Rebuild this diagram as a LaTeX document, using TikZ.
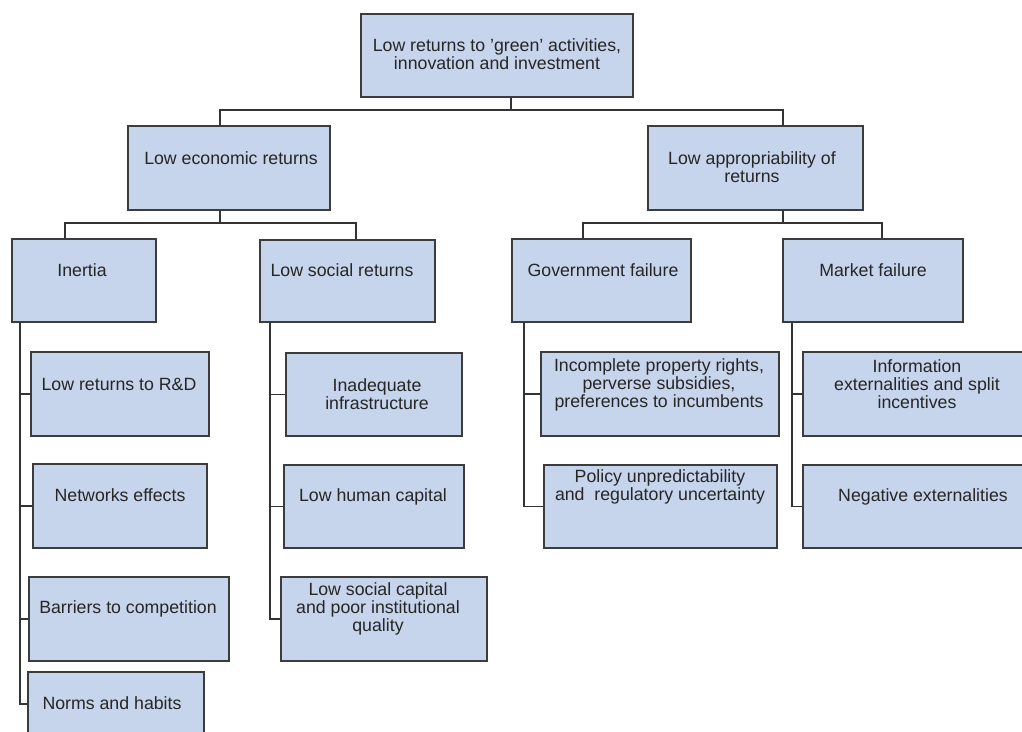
\documentclass[tikz,border=0pt]{standalone}
\usepackage{fontspec}
\setmainfont{Liberation Sans}
\usetikzlibrary{fit}
\definecolor{boxfill}{HTML}{C6D4EC}
\definecolor{boxline}{HTML}{3C3C3C}
\definecolor{wire}{HTML}{333333}
\tikzset{
  box/.style={draw=boxline, fill=boxfill, line width=0.8pt, inner sep=0pt, rectangle},
  txt/.style={align=center, inner sep=0pt, text=black!85, font=\fontsize{13.3}{13.6}\selectfont},
  wire/.style={draw=wire, line width=0.8pt}
}
\begin{document}
\begin{tikzpicture}[x=0.75pt, y=-0.75pt]
\useasboundingbox (0,0) rectangle (1022,732);
\clip (0,0) rectangle (1022,732);
% boxes
\node[box, fit={(361,14) (633,97)}] (top) {};
\node[box, fit={(128,126) (330,210)}] (econ) {};
\node[box, fit={(648,126) (863,210)}] (approp) {};
\node[box, fit={(12,239) (156,322)}] (inertia) {};
\node[box, fit={(260,240) (435,322)}] (social) {};
\node[box, fit={(512,239) (691,322)}] (gov) {};
\node[box, fit={(783,239) (963,322)}] (market) {};
\node[box, fit={(31,352) (209,436)}] (rd) {};
\node[box, fit={(33,464) (207,548)}] (net) {};
\node[box, fit={(29,577) (229,661)}] (barr) {};
\node[box, fit={(28,672) (204,736)}] (norms) {};
\node[box, fit={(286,353) (462,436)}] (infra) {};
\node[box, fit={(284,465) (464,548)}] (human) {};
\node[box, fit={(281,577) (487,661)}] (capital) {};
\node[box, fit={(541,352) (779,436)}] (prop) {};
\node[box, fit={(544,465) (777,548)}] (policy) {};
\node[box, fit={(803,352) (1032,436)}] (info) {};
\node[box, fit={(803,465) (1032,548)}] (neg) {};
% texts
\node[txt] (top-t) at (497,54) {Low returns to ’green’ activities,\\innovation and investment};
\node[txt] (econ-t) at (231,158) {Low economic returns};
\node[txt] (approp-t) at (752,167) {Low appropriability of\\returns};
\node[txt] (inertia-t) at (82,270) {Inertia};
\node[txt] (social-t) at (342,270) {Low social returns};
\node[txt] (gov-t) at (603,270) {Government failure};
\node[txt] (market-t) at (873,270) {Market failure};
\node[txt] (rd-t) at (119,384) {Low returns to R\&D};
\node[txt] (net-t) at (120,495) {Networks effects};
\node[txt] (barr-t) at (128,609) {Barriers to competition};
\node[txt] (norms-t) at (112,703) {Norms and habits};
\node[txt] (infra-t) at (377,394) {Inadequate\\infrastructure};
\node[txt] (human-t) at (373,497) {Low human capital};
\node[txt] (capital-t) at (378,609) {Low social capital\\and poor institutional\\quality};
\node[txt] (prop-t) at (659,385) {Incomplete property rights,\\perverse subsidies,\\preferences to incumbents};
\node[txt] (policy-t) at (660,487) {Policy unpredictability\\and\ \ regulatory uncertainty};
\node[txt] (info-t) at (917,384) {Information\\externalities and split\\incentives};
\node[txt] (neg-t) at (923,497) {Negative externalities};
% junction coordinates
\coordinate (j0) at (511,110);
\coordinate (je) at (220,223);
\coordinate (ja) at (783,223);
\coordinate (xi) at (65,0);
\coordinate (xs) at (356,0);
\coordinate (xg) at (583,0);
\coordinate (xm) at (882,0);
\coordinate (s1) at (20,0);
\coordinate (s2) at (270,0);
\coordinate (s3) at (524,0);
\coordinate (s4) at (792,0);
% trunk
\draw[wire] (top.south -| j0) -- (j0);
\draw[wire] (econ.north -| je) |- (j0) -| (approp.north -| ja);
% level 2
\draw[wire] (econ.south -| je) -- (je);
\draw[wire] (inertia.north -| xi) |- (je) -| (social.north -| xs);
\draw[wire] (approp.south -| ja) -- (ja);
\draw[wire] (gov.north -| xg) |- (ja) -| (market.north -| xm);
% spines
\draw[wire] (inertia.south -| s1) |- (rd.west);
\draw[wire] (inertia.south -| s1) |- (net.west);
\draw[wire] (inertia.south -| s1) |- (barr.west);
\draw[wire] (inertia.south -| s1) |- (norms.west);
\draw[wire] (social.south -| s2) |- (infra.west);
\draw[wire] (social.south -| s2) |- (human.west);
\draw[wire] (social.south -| s2) |- (capital.west);
\draw[wire] (gov.south -| s3) |- (prop.west);
\draw[wire] (gov.south -| s3) |- (policy.west);
\draw[wire] (market.south -| s4) |- (info.west);
\draw[wire] (market.south -| s4) |- (neg.west);
\end{tikzpicture}
\end{document}
